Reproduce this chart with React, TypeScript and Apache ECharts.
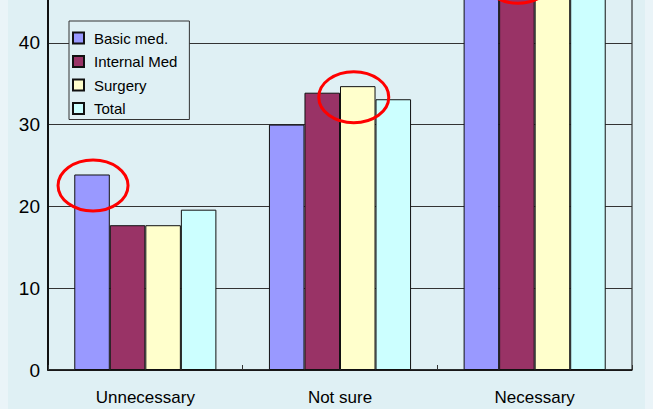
import React, { useEffect, useRef } from "react";
import * as echarts from "echarts";

const categories = ["Unnecessary", "Not sure", "Necessary"];
const seriesNames = ["Basic med.", "Internal Med", "Surgery", "Total"];
const basicMed = [23.9, 30, 47];
const internalMed = [17.7, 33.9, 49.3];
const surgery = [17.7, 34.7, 48];
const total = [19.6, 33.1, 48];
const yTicks = [0, 10, 20, 30, 40, 50];
const colors = ["#9999ff", "#993366", "#ffffcc", "#ccffff"];
// highlighted bars: [categoryIndex, seriesIndex, horizontal nudge]
const highlights: [number, number, number][] = [
  [0, 0, 0],
  [1, 2, -5],
  [2, 1, 0],
];

const HIDDEN_TOP = 39;

export default function App() {
  const ref = useRef<HTMLDivElement>(null);
  useEffect(() => {
    if (!ref.current) return;
    const chart = echarts.init(ref.current, undefined, { renderer: "svg" });
    const values = [basicMed, internalMed, surgery, total];
    const font = "Arial, 'Liberation Sans', sans-serif";
    const catGap = 0.27;
    const option: any = {
      animation: false,
      backgroundColor: "#eaf4f8",
      grid: {
        left: 48,
        right: 21,
        bottom: 39,
        top: 0,
        containLabel: false,
        outerBoundsMode: "none",
        show: true,
        backgroundColor: "transparent",
        borderColor: "#111",
        borderWidth: 1,
      },
      legend: {
        orient: "vertical",
        left: 69,
        top: 21 + HIDDEN_TOP,
        data: seriesNames,
        backgroundColor: "#dff0f4",
        borderColor: "#333",
        borderWidth: 1,
        borderRadius: 0,
        padding: [9, 12, 3, 3],
        itemGap: 7.5,
        itemWidth: 11,
        itemHeight: 11,
        icon: "rect",
        textStyle: {
          fontFamily: font,
          fontSize: 15,
          color: "#000",
          padding: [0, 0, 0, 5],
          lineHeight: 16,
        },
      },
      xAxis: {
        type: "category",
        data: categories,
        axisLine: { show: true, lineStyle: { color: "#111", width: 1.5 } },
        axisTick: { show: true, inside: true, length: 5, lineStyle: { color: "#333" } },
        axisLabel: {
          fontFamily: font,
          fontSize: 17,
          color: "#000",
          margin: 19,
        },
        splitLine: { show: false },
      },
      yAxis: {
        type: "value",
        min: yTicks[0],
        max: yTicks[yTicks.length - 1],
        interval: 10,
        axisLine: { show: true, lineStyle: { color: "#111", width: 2 } },
        axisTick: { show: false },
        axisLabel: {
          fontFamily: font,
          fontSize: 19,
          color: "#000",
          margin: 8,
          showMaxLabel: false,
        },
        splitLine: { show: true, lineStyle: { color: "#333", width: 1 } },
      },
      series: seriesNames.map((name, i) => ({
        name,
        type: "bar",
        data: values[i],
        barGap: "0%",
        barCategoryGap: catGap * 100 + "%",
        itemStyle: { color: colors[i], borderColor: "#111", borderWidth: 1 },
        emphasis: { disabled: true },
      })),
    };
    chart.setOption(option);

    const p0 = chart.convertToPixel({ xAxisIndex: 0, yAxisIndex: 0 }, [0, 0]) as number[];
    const p1 = chart.convertToPixel({ xAxisIndex: 0, yAxisIndex: 0 }, [1, 0]) as number[];
    const band = p1[0] - p0[0];
    const barW = (band * (1 - catGap)) / 4;
    const ellipses = highlights.map(([c, s, dx]) => {
      const p = chart.convertToPixel({ xAxisIndex: 0, yAxisIndex: 0 }, [c, values[s][c]]) as number[];
      return {
        type: "ellipse",
        shape: { cx: p[0] + (s - 1.5) * barW + 1 + dx, cy: p[1] + 11, rx: 35, ry: 25.5 },
        style: { fill: "none", stroke: "#ff0000", lineWidth: 3 },
        z: 100,
      };
    });
    chart.setOption({
      graphic: [
        {
          type: "rect",
          shape: { x: 8, y: 0, width: 637, height: 409 + HIDDEN_TOP },
          style: { fill: "#dff0f4" },
          z: -10,
          silent: true,
        },
        ...ellipses,
      ],
    });
    return () => chart.dispose();
  }, []);
  return (
    <div style={{ position: "absolute", left: 0, top: 0, width: 653, height: 409, overflow: "hidden" }}>
      <div
        ref={ref}
        style={{ position: "absolute", left: 0, top: -HIDDEN_TOP, width: 653, height: 409 + HIDDEN_TOP }}
      />
    </div>
  );
}
